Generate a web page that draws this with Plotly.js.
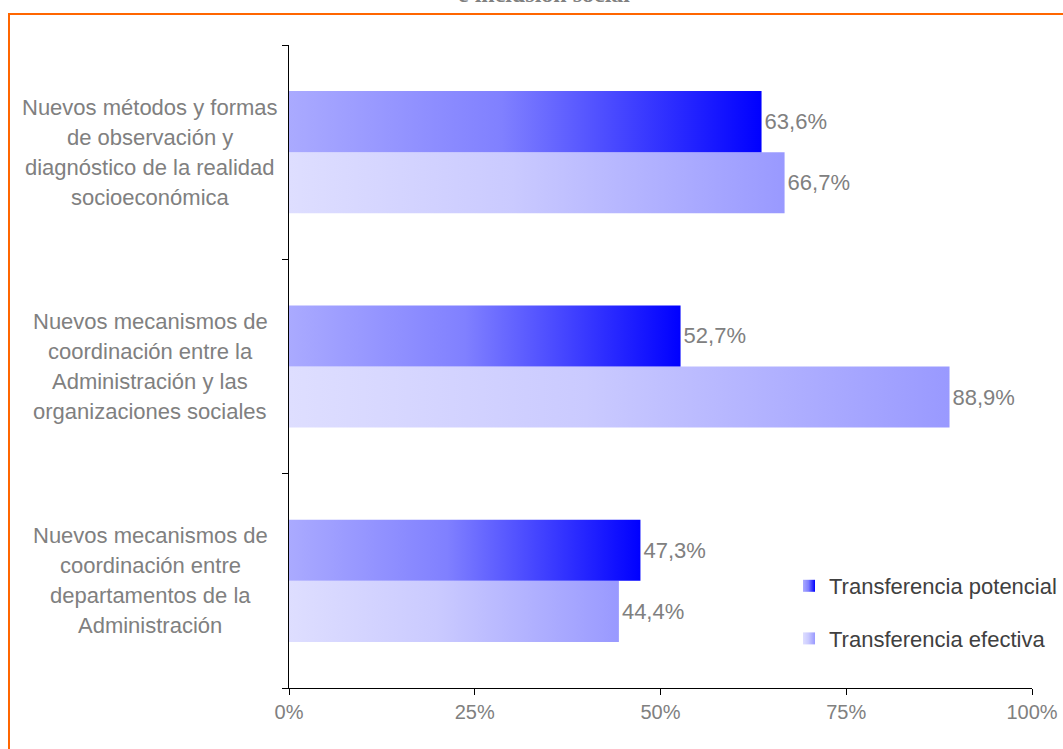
<!DOCTYPE html>
<html>
<head>
<meta charset="utf-8">
<script src="https://cdn.plot.ly/plotly-3.0.1.min.js"></script>
<style>
html,body{margin:0;padding:0;background:#fff;}
#chart{width:1063px;height:749px;}
</style>
</head>
<body>
<div id="chart"></div>
<script>
// Categories, bottom to top as Plotly draws them
var categories = [
  "Nuevos mecanismos de<br>coordinación entre<br>departamentos de la<br>Administración",
  "Nuevos mecanismos de<br>coordinación entre la<br>Administración y las<br>organizaciones sociales",
  "Nuevos métodos y formas<br>de observación y<br>diagnóstico de la realidad<br>socioeconómica"
];
var catKeys = ["c1", "c2", "c3"];
var potencial = [47.3, 52.7, 63.6];
var efectiva = [44.4, 88.9, 66.7];
var seriesNames = ["Transferencia potencial", "Transferencia efectiva"];
var xTicks = [0, 25, 50, 75, 100];
var xTickLabels = ["0%", "25%", "50%", "75%", "100%"];
var titleText = "e inclusión social";

var W = 1063, H = 749;
var mL = 289, mR = 31, mT = 45, mB = 61;
var pw = W - mL - mR, ph = H - mT - mB;
function px2x(p){ return (p - mL) / pw; }
function py2y(p){ return (H - mB - p) / ph; }

var grey = "#808080";
var font = "Liberation Sans, Arial, sans-serif";

var traces = [
  {
    type: "bar", orientation: "h", name: seriesNames[1],
    y: catKeys, x: efectiva, legendrank: 2, legendgroup: "b",
    marker: {color: "#BBBBFF", line: {width: 0}},
    texttemplate: "%{x:.1f}%", textposition: "outside", cliponaxis: false,
    constraintext: "none",
    textfont: {family: font, size: 22, color: grey},
    hoverinfo: "none"
  },
  {
    type: "bar", orientation: "h", name: seriesNames[0],
    y: catKeys, x: potencial, legendrank: 1, legendgroup: "a",
    marker: {color: "#5555FF", line: {width: 0}},
    texttemplate: "%{x:.1f}%", textposition: "outside", cliponaxis: false,
    constraintext: "none",
    textfont: {family: font, size: 22, color: grey},
    hoverinfo: "none"
  }
];

var annotations = [];
categories.forEach(function(c, i){
  var lines = c.split("<br>");
  var n = lines.length;
  lines.forEach(function(line, j){
    annotations.push({
      xref: "paper", yref: "y", x: px2x(150), y: catKeys[i],
      xanchor: "center", yanchor: "middle",
      yshift: -(j - (n - 1) / 2) * 30,
      text: line, showarrow: false,
      font: {family: font, size: 22, color: grey}
    });
  });
});
annotations.push({
  xref: "paper", yref: "paper", x: px2x(544), y: 1,
  xanchor: "center", yanchor: "bottom", yshift: mT - 9,
  text: "<b>" + titleText + "</b>", showarrow: false,
  font: {family: "Liberation Serif, Times New Roman, serif", size: 24, color: grey}
});

var layout = {
  width: W, height: H,
  margin: {l: mL, r: mR, t: mT, b: mB, pad: 0, autoexpand: false},
  paper_bgcolor: "#fff", plot_bgcolor: "#fff",
  separators: ",.",
  barmode: "group", bargap: 0.43, bargroupgap: 0,
  showlegend: true,
  legend: {
    xref: "container", yref: "container",
    x: 789 / W, y: (H - 565) / H, xanchor: "left", yanchor: "top",
    traceorder: "grouped", tracegroupgap: 21, itemwidth: 30,
    font: {family: font, size: 22, color: "#404040"},
    bgcolor: "rgba(0,0,0,0)", borderwidth: 0
  },
  xaxis: {
    range: [0, 100], tickmode: "array", tickvals: xTicks, ticktext: xTickLabels,
    showgrid: false, zeroline: false,
    showline: true, linecolor: "#000", linewidth: 1,
    ticks: "outside", ticklen: 6, tickcolor: "#000", tickwidth: 1,
    tickfont: {family: font, size: 20, color: grey},
    fixedrange: true
  },
  yaxis: {
    type: "category", categoryorder: "array", categoryarray: catKeys,
    range: [-0.5, 2.5],
    showticklabels: false, showgrid: false, zeroline: false,
    showline: true, linecolor: "#000", linewidth: 1,
    ticks: "outside", ticklen: 6, tickcolor: "#000", tickson: "boundaries",
    fixedrange: true
  },
  annotations: annotations,
  shapes: [{
    type: "rect", xref: "paper", yref: "paper", layer: "above",
    x0: px2x(9), x1: px2x(W + 20), y0: py2y(H + 20), y1: py2y(14),
    line: {color: "#FF6600", width: 2}, fillcolor: "rgba(0,0,0,0)"
  }]
};

Plotly.newPlot("chart", traces, layout, {displayModeBar: false, staticPlot: true}).then(function(gd){
  var svgNS = "http://www.w3.org/2000/svg";
  var svg = gd.querySelector(".main-svg");
  var defs = svg.querySelector("defs");
  if (!defs) { defs = document.createElementNS(svgNS, "defs"); svg.insertBefore(defs, svg.firstChild); }
  var grads = {
    gEff: [["0%", "#DEDEFF"], ["45%", "#CACAFF"], ["100%", "#9999FF"]],
    gPot: [["0%", "#AAAAFF"], ["45%", "#8080FF"], ["100%", "#0000FF"]]
  };
  Object.keys(grads).forEach(function(id){
    var lg = document.createElementNS(svgNS, "linearGradient");
    lg.setAttribute("id", id);
    lg.setAttribute("x1", "0"); lg.setAttribute("y1", "0");
    lg.setAttribute("x2", "1"); lg.setAttribute("y2", "0");
    grads[id].forEach(function(s){
      var st = document.createElementNS(svgNS, "stop");
      st.setAttribute("offset", s[0]);
      st.setAttribute("stop-color", s[1]);
      lg.appendChild(st);
    });
    defs.appendChild(lg);
  });
  var ids = ["gEff", "gPot"];
  gd.querySelectorAll(".barlayer .trace").forEach(function(t, i){
    t.querySelectorAll(".point path").forEach(function(p){
      p.style.fill = "url(#" + ids[i] + ")";
    });
  });
  gd.querySelectorAll(".legend .traces").forEach(function(t){
    var d = t.__data__;
    var idx = (d && d[0] && d[0].trace) ? d[0].trace.index : 0;
    t.querySelectorAll(".legendpoints path").forEach(function(p){
      p.style.fill = "url(#" + ids[idx] + ")";
    });
  });
});
</script>
</body>
</html>
